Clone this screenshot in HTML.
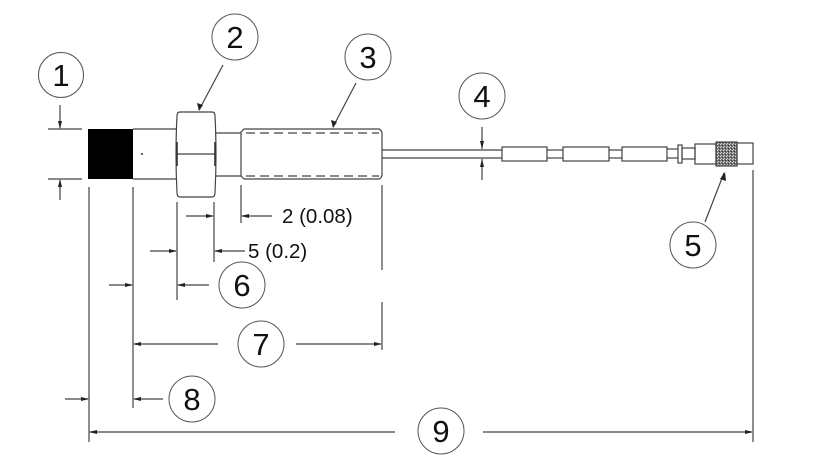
<!DOCTYPE html>
<html><head><meta charset="utf-8"><style>
html,body{margin:0;padding:0;background:#fff;}
svg{display:block;}
text{font-family:"Liberation Sans",Arial,sans-serif;fill:#111;}
</style></head><body>
<svg width="835" height="459" viewBox="0 0 835 459" xmlns="http://www.w3.org/2000/svg">
<defs>
<pattern id="kn" width="3" height="3" patternUnits="userSpaceOnUse">
<rect width="3" height="3" fill="#777"/>
<rect x="0" y="0" width="1" height="1" fill="#ddd"/>
<rect x="2" y="1" width="1" height="1" fill="#333"/>
<rect x="1" y="2" width="1" height="1" fill="#ccc"/>
</pattern>
</defs>
<g stroke="#444" stroke-width="1.2" fill="none">
<!-- body -->
<line x1="133" y1="129" x2="177" y2="129"/>
<line x1="133" y1="179" x2="177" y2="179"/>
<!-- nut -->
<path d="M180 112 L212 112 Q215 112 215 116 Q217 154 215 193 Q215 197 212 197 L180 197 Q177 197 177 193 Q175 154 177 116 Q177 112 180 112 Z"/>
<line x1="177" y1="154" x2="215" y2="154"/>
<!-- neck -->
<line x1="215" y1="133" x2="241" y2="133"/>
<line x1="215" y1="176" x2="241" y2="176"/>
<!-- sleeve -->
<path d="M244 129 L379 129 Q382 130 382 134 L382 174 Q382 178 379 179 L244 179 L241 176 L241 132 Z"/>
<line x1="246" y1="133" x2="379" y2="133" stroke-dasharray="9,5"/>
<line x1="246" y1="176" x2="379" y2="176" stroke-dasharray="9,5"/>
<!-- cable -->
<line x1="382" y1="150" x2="502" y2="150"/>
<line x1="382" y1="158" x2="502" y2="158"/>
<line x1="547" y1="150" x2="563" y2="150"/>
<line x1="547" y1="158" x2="563" y2="158"/>
<line x1="609" y1="150" x2="622" y2="150"/>
<line x1="609" y1="158" x2="622" y2="158"/>
<rect x="502" y="147" width="45" height="14"/>
<rect x="563" y="147" width="46" height="14"/>
<rect x="622" y="147" width="45" height="14"/>
<line x1="667" y1="149" x2="678" y2="149"/>
<line x1="667" y1="158" x2="678" y2="158"/>
<rect x="678" y="145" width="4" height="18"/>
<rect x="682" y="148" width="13" height="11"/>
<rect x="695" y="144" width="21" height="20"/>
<rect x="716" y="142" width="21" height="24" fill="url(#kn)"/>
<rect x="737" y="143" width="16" height="21"/>
<!-- extension lines -->
<line x1="48" y1="129" x2="82" y2="129"/>
<line x1="48" y1="179" x2="82" y2="179"/>
<line x1="89" y1="187" x2="89" y2="442"/>
<line x1="133" y1="187" x2="133" y2="408"/>
<line x1="177" y1="202" x2="177" y2="300"/>
<line x1="214" y1="202" x2="214" y2="262"/>
<line x1="241" y1="185" x2="241" y2="223"/>
<line x1="382" y1="185" x2="382" y2="270"/>
<line x1="382" y1="302" x2="382" y2="350"/>
<line x1="753" y1="170" x2="753" y2="442"/>
<!-- dim lines -->
<line x1="60" y1="105" x2="60" y2="128"/>
<line x1="60" y1="180" x2="60" y2="200"/>
<line x1="482" y1="127" x2="482" y2="149"/>
<line x1="482" y1="159" x2="482" y2="180"/>
<line x1="186" y1="216" x2="213" y2="216"/>
<line x1="242" y1="216" x2="272" y2="216"/>
<line x1="150" y1="251" x2="176" y2="251"/>
<line x1="215" y1="251" x2="245" y2="251"/>
<line x1="109" y1="285" x2="132" y2="285"/>
<line x1="178" y1="285" x2="209" y2="285"/>
<line x1="134" y1="344" x2="218" y2="344"/>
<line x1="296" y1="344" x2="381" y2="344"/>
<line x1="65" y1="399" x2="88" y2="399"/>
<line x1="134" y1="399" x2="163" y2="399"/>
<line x1="90" y1="432" x2="395" y2="432"/>
<line x1="483" y1="432" x2="752" y2="432"/>
<!-- leaders -->
<line x1="223" y1="65" x2="199" y2="110"/>
<line x1="356" y1="83" x2="333" y2="127"/>
<line x1="705" y1="222" x2="724" y2="173"/>
</g>
<!-- black part -->
<rect x="88" y="129" width="45" height="50" fill="#000"/>
<circle cx="142" cy="154" r="1" fill="#333"/>
<!-- nut side marks -->
<g stroke="#333" stroke-width="1.6">
<line x1="177" y1="142" x2="177" y2="166"/>
<line x1="215" y1="142" x2="215" y2="166"/>
</g>
<!-- arrowheads -->
<g fill="#222">
<polygon points="60,129 58,121 62,121"/>
<polygon points="60,179 58,187 62,187"/>
<polygon points="482,149 480,141 484,141"/>
<polygon points="482,159 480,167 484,167"/>
<polygon points="214,216 206,214 206,218"/>
<polygon points="241,216 249,214 249,218"/>
<polygon points="177,251 169,249 169,253"/>
<polygon points="214,251 222,249 222,253"/>
<polygon points="133,285 125,283 125,287"/>
<polygon points="177,285 185,283 185,287"/>
<polygon points="133,344 141,342 141,346"/>
<polygon points="382,344 374,342 374,346"/>
<polygon points="89,399 81,397 81,401"/>
<polygon points="133,399 141,397 141,401"/>
<polygon points="89,432 97,430 97,434"/>
<polygon points="753,432 745,430 745,434"/>
<polygon points="199,111 197,103 203,105"/>
<polygon points="333,128 331,120 337,122"/>
<polygon points="725,172 720,179 726,181"/>
</g>
<!-- dimension text -->
<text x="282" y="223" font-size="20.5">2 (0.08)</text>
<text x="248" y="258" font-size="20.5">5 (0.2)</text>
<!-- callout circles -->
<g stroke="#555" stroke-width="1" fill="#fff">
<circle cx="61" cy="75" r="22.5"/>
<circle cx="235" cy="37" r="23"/>
<circle cx="368" cy="57" r="23"/>
<circle cx="482" cy="96" r="23"/>
<circle cx="693" cy="245" r="23"/>
<circle cx="242" cy="285" r="23"/>
<circle cx="261" cy="344" r="23"/>
<circle cx="192" cy="399" r="23"/>
<circle cx="441" cy="431" r="23"/>
</g>
<g font-size="31" text-anchor="middle">
<text x="61" y="86">1</text>
<text x="235" y="48">2</text>
<text x="368" y="68">3</text>
<text x="482" y="107">4</text>
<text x="693" y="256">5</text>
<text x="242" y="296">6</text>
<text x="261" y="355">7</text>
<text x="192" y="410">8</text>
<text x="441" y="442">9</text>
</g>
</svg>
</body></html>
